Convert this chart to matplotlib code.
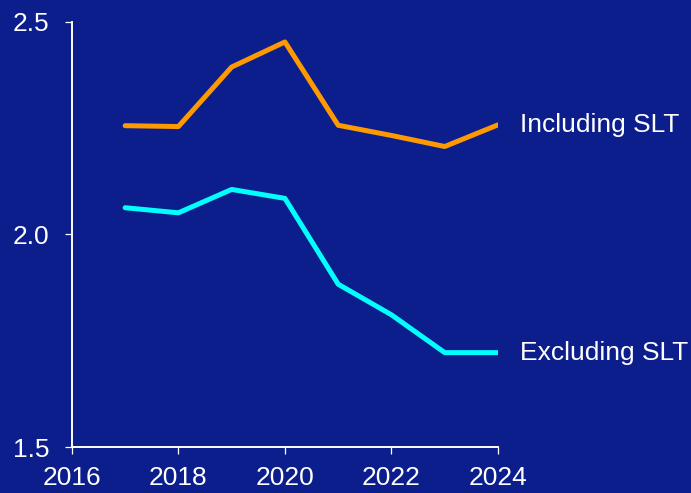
import matplotlib.pyplot as plt

years = [2017, 2018, 2019, 2020, 2021, 2022, 2023, 2024]
including_slt = [2.256, 2.254, 2.394, 2.453, 2.257, 2.233, 2.207, 2.258]
excluding_slt = [2.063, 2.051, 2.106, 2.085, 1.883, 1.811, 1.722, 1.722]

bg = '#0c1d8c'
plt.rcParams['font.family'] = ['Liberation Sans', 'DejaVu Sans']

fig = plt.figure(figsize=(6.91, 4.93), dpi=100, facecolor=bg)
ax = fig.add_axes([0.104, 0.0933, 0.6167, 0.8621], facecolor=bg)

ax.plot(years, including_slt, color='#ff9900', lw=3.6, solid_capstyle='round')
ax.plot(years, excluding_slt, color='#00ffff', lw=3.6, solid_capstyle='round')

for vals, name in [(including_slt, 'Including SLT'), (excluding_slt, 'Excluding SLT')]:
    ax.annotate(name, (years[-1], vals[-1]), xytext=(16, 0), textcoords='offset points',
                color='white', fontsize=19, va='center', ha='left', annotation_clip=False)

ax.set_xlim(2016, 2024)
ax.set_ylim(1.5, 2.5)
ax.set_xticks([2016, 2018, 2020, 2022, 2024])
ax.set_yticks([1.5, 2.0, 2.5])
ax.set_yticklabels(['1.5', '2.0', '2.5'])

for side in ['top', 'right']:
    ax.spines[side].set_visible(False)
for side in ['left', 'bottom']:
    ax.spines[side].set_color('white')
    ax.spines[side].set_linewidth(1.4)

ax.tick_params(colors='white', labelsize=19, width=0.9, length=5)
ax.tick_params(axis='x', pad=9)
ax.tick_params(axis='y', pad=11)

fig.savefig('out.png', dpi=100, facecolor=bg)
